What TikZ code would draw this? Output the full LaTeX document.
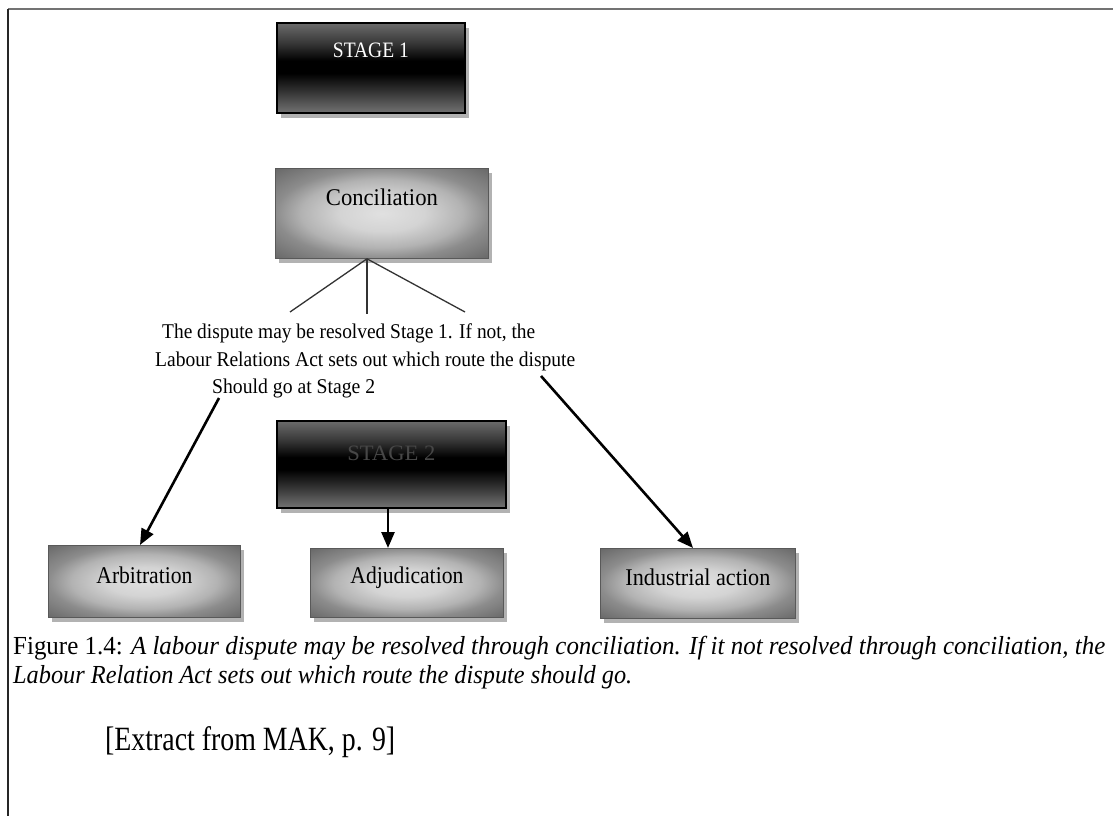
\documentclass[tikz,border=0pt]{standalone}
\usepackage{fontspec}
\setmainfont{Liberation Serif}
\usepackage{graphicx}
\usetikzlibrary{shadows,arrows.meta,calc}
\newcommand\fitw[2]{\resizebox{#1}{\height}{#2}}
\pgfdeclareverticalshading{stageshade}{100bp}{color(0bp)=(black!55); color(25bp)=(black!55); color(38bp)=(black!82); color(47bp)=(black); color(54bp)=(black); color(64bp)=(black!78); color(75bp)=(black!58); color(100bp)=(black!58)}
\pgfdeclareradialshading{boxshade}{\pgfpoint{0bp}{0bp}}{color(0bp)=(black!12); color(10bp)=(black!17); color(19bp)=(black!30); color(25bp)=(black!45); color(36bp)=(black!60); color(50bp)=(black!60)}
\begin{document}
\begin{tikzpicture}[x=1pt,y=-1pt,
  boxshadow/.style={drop shadow={shadow xshift=4pt,shadow yshift=-5pt,fill=black!55,opacity=0.55}},
  graybox/.style={shade, shading=boxshade, draw=black!65, line width=0.8pt,
    inner xsep=0pt, inner ysep=0pt, anchor=north west, boxshadow,
    font=\fontsize{24}{28}\selectfont},
  stagebox/.style={shade, shading=stageshade, draw=black, line width=1.8pt,
    inner xsep=0pt, inner ysep=0pt, anchor=north west, boxshadow,
    font=\fontsize{22}{26}\selectfont},
  midtext/.style={anchor=base west, inner sep=0pt, font=\fontsize{21}{25}\selectfont},
  captext/.style={anchor=base west, inner sep=0pt, font=\fontsize{26}{30}\selectfont},
  conn/.style={draw=black!80, line width=1.3pt},
  arr/.style={draw=black, line width=2.6pt, -{Triangle[length=16pt,width=13pt]}}
]
\useasboundingbox (0,0) rectangle (1113,816);
\fill[white] (0,0) rectangle (1113,816);
\draw[black!55, line width=2pt] (8,9) -- (1113,9);
\draw[black!85, line width=1.6pt] (8,9) -- (8,816);

% boxes
\node[stagebox, minimum width=188pt, text height=35pt, text depth=55pt, text=white] (s1) at (276,22) {\fitw{76pt}{STAGE 1}};
\node[graybox, minimum width=213pt, text height=37pt, text depth=53pt] (conc) at (275,168) {\fitw{112pt}{Conciliation}};
\node[stagebox, minimum width=229pt, text height=40pt, text depth=47pt, text=black!72] (s2) at (276,420) {\fitw{88pt}{STAGE 2}};
\node[graybox, minimum width=192pt, text height=38pt, text depth=34pt] (arb) at (48,545) {\fitw{96pt}{Arbitration}};
\node[graybox, minimum width=193pt, text height=35pt, text depth=34pt] (adj) at (310,548) {\fitw{113pt}{Adjudication}};
\node[graybox, minimum width=195pt, text height=37pt, text depth=33pt] (ind) at (600,548) {\fitw{145pt}{Industrial action}};

% middle text
\node[midtext] (t1) at (162,338) {\fitw{373pt}{The dispute may be resolved Stage 1. If not, the}};
\node[midtext] (t2) at (155,366) {\fitw{420pt}{Labour Relations Act sets out which route the dispute}};
\node[midtext] (t3) at (212,393) {\fitw{163pt}{Should go at Stage 2}};

% connectors
\coordinate (apex) at ($(conc.south west)+(92,0)$);
\coordinate (e1) at (290,312);
\coordinate (e2) at (367,314);
\coordinate (e3) at (465,312);
\draw[conn] (apex) -- (e1);
\draw[conn] (apex) -- (e2);
\draw[conn] (apex) -- (e3);

\coordinate (a1s) at (219,398);
\coordinate (a3s) at (541,376);
\coordinate (s2b) at ($(s2.south west)+(112,0)$);
\draw[arr] (a1s) -- ($(arb.north west)+(92,0)$);
\draw[arr] (a3s) -- ($(ind.north west)+(93,0)$);
\draw[arr] (s2b) -- (s2b |- adj.north);

% caption
\node[captext] (cap1) at (13,654) {\fitw{1092pt}{Figure 1.4: \textit{A labour dispute may be resolved through conciliation. If it not resolved through conciliation, the}}};
\node[captext] (cap2) at (13,683) {\fitw{619pt}{\textit{Labour Relation Act sets out which route the dispute should go.}}};
\node[anchor=base west, inner sep=0pt, font=\fontsize{34}{38}\selectfont] (src) at (105,750) {\fitw{290pt}{[Extract from MAK, p. 9]}};
\end{tikzpicture}
\end{document}
